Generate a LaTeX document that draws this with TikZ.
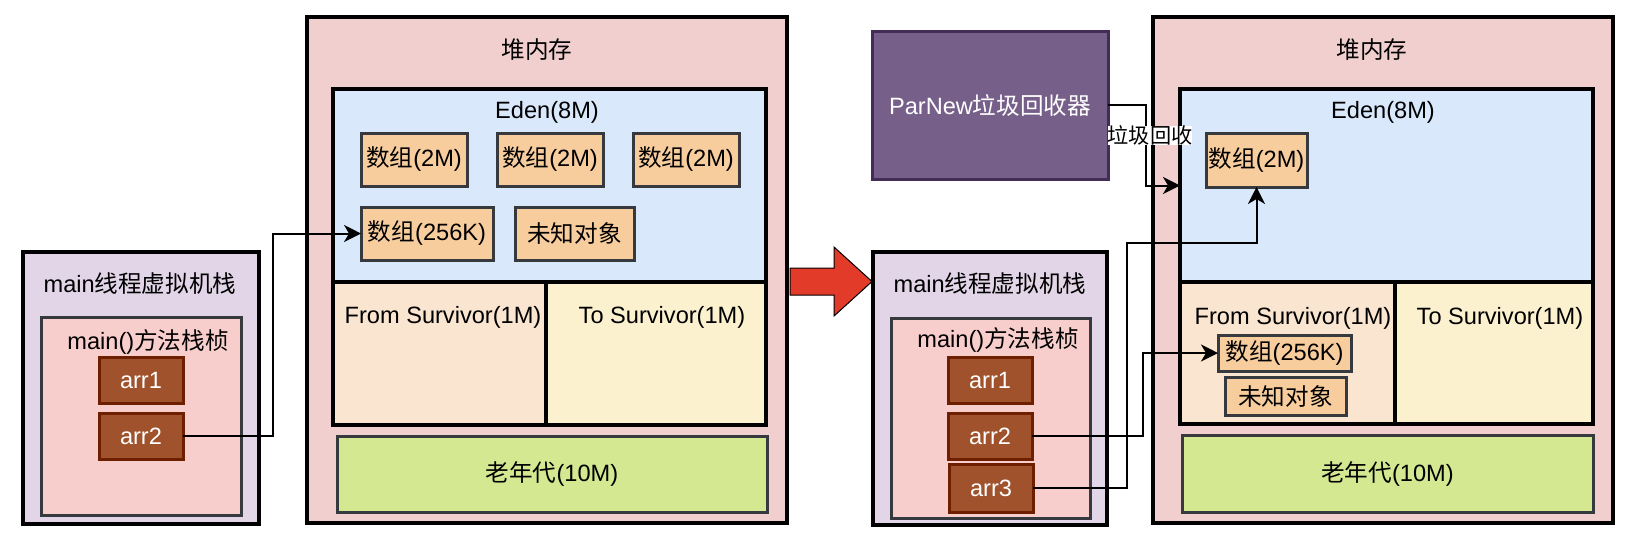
\documentclass[tikz,border=0pt]{standalone}
\usepackage{fontspec}
\setmainfont{Liberation Sans}
\newfontfamily\cjk{Noto Sans CJK SC}
\newcommand{\zh}[1]{{\cjk #1}}
\usepackage{tikz}
\usetikzlibrary{arrows.meta}

\definecolor{heapfill}{HTML}{F2CFCF}
\definecolor{framefill}{HTML}{F8CECC}
\definecolor{stackfill}{HTML}{E1D5E7}
\definecolor{edenfill}{HTML}{DAE8FC}
\definecolor{fromfill}{HTML}{FAE5D0}
\definecolor{tofill}{HTML}{FCF1CF}
\definecolor{oldfill}{HTML}{D4E892}
\definecolor{arrayfill}{HTML}{F8CD9E}
\definecolor{reffill}{HTML}{A0522D}
\definecolor{refdraw}{HTML}{6D1F00}
\definecolor{gcfill}{HTML}{76608A}
\definecolor{gcdraw}{HTML}{432D57}
\definecolor{bigred}{HTML}{E33B2A}
\definecolor{darkgray}{HTML}{36393D}

\tikzset{
  sz/.style 2 args={minimum width=#1*0.5pt, minimum height=#2*0.5pt},
  heapbox/.style={draw=black, fill=heapfill, line width=2pt},
  stackbox/.style={draw=black, fill=stackfill, line width=2pt},
  framebox/.style={draw=darkgray, fill=framefill, line width=1.5pt},
  edenbox/.style={draw=black, fill=edenfill, line width=2pt},
  fromsurv/.style={draw=black, fill=fromfill, line width=2pt},
  tosurv/.style={draw=black, fill=tofill, line width=2pt},
  oldgen/.style={draw=darkgray, fill=oldfill, line width=1.5pt},
  arraybox/.style={draw=darkgray, fill=arrayfill, line width=1.5pt},
  refbox/.style={draw=refdraw, fill=reffill, line width=1.5pt, text=white},
  gcbox/.style={draw=gcdraw, fill=gcfill, line width=1.5pt, text=white},
  link/.style={line width=1pt, -{Stealth[length=8.5pt, width=8.5pt, inset=2.5pt]}}
}

\begin{document}
\begin{tikzpicture}[x=0.5pt, y=-0.5pt,
    font=\fontsize{11.8}{14}\selectfont,
    every node/.style={inner sep=0pt, outer sep=0pt}]
    \useasboundingbox (0,0) rectangle (1646,538);

    % Left: main thread stack
    \node[stackbox, sz={236}{272}] (stackL) at (141,388) {};
    \node (stackLt) at (140,283) {main\zh{线程虚拟机栈}};
    \node[framebox, sz={200}{198}] (frameL) at (141,416) {};
    \node (frameLt) at (148,342) {main()\zh{方法栈桢}};
    \node[refbox, sz={84}{46}] (arr1L) at (141,380) {arr1};
    \node[refbox, sz={84}{46}] (arr2L) at (141,436) {arr2};

    % Left: heap
    \node[heapbox, sz={480}{506}] (heapL) at (547,270) {};
    \node (heapLt) at (537,50) {\zh{堆内存}};
    \node[edenbox, sz={433}{193}] (edenL) at (549.5,185.5) {};
    \node (edenLt) at (547,112) {Eden(8M)};
    \foreach \x/\n in {414/1, 550/2, 686/3}
        \node[arraybox, sz={106}{53}] (arrL\n) at (\x,159.5) {\zh{数组}(2M)};
    \node[arraybox, sz={132}{53}] (a256L) at (427,233.5) {\zh{数组}(256K)};
    \node[arraybox, sz={119}{53}] (unkL) at (574.5,233.5) {\zh{未知对象}};
    \node[fromsurv, sz={213}{143}] (fromL) at (439.5,353.5) {};
    \node[tosurv, sz={220}{143}] (toL) at (656,353.5) {};
    \node (fromLt) at (443,317) {From Survivor(1M)};
    \node (toLt) at (662,317) {To Survivor(1M)};
    \node[oldgen, sz={430}{76}] (oldL) at (552,474) {\zh{老年代}(10M)};

    % Reference from the stack
    \draw[link] (arr2L.east) -- ++(90,0) |- (a256L.west);

    % Big arrow between the two states
    \draw[fill=bigred, draw=black, line width=0.5pt]
        (790,268) -- (834,268) -- (834,247) -- (872,281.5)
        -- (834,316) -- (834,295) -- (790,295) -- cycle;

    % Garbage collector
    \node[gcbox, sz={236}{148}] (parnew) at (990,105) {ParNew\zh{垃圾回收器}};

    % Right: main thread stack
    \node[stackbox, sz={234}{273}] (stackR) at (990,388.5) {};
    \node (stackRt) at (990,283) {main\zh{线程虚拟机栈}};
    \node[framebox, sz={199}{200}] (frameR) at (990.5,418) {};
    \node (frameRt) at (998,340) {main()\zh{方法栈桢}};
    \node[refbox, sz={84}{46}] (arr1R) at (990,380) {arr1};
    \node[refbox, sz={84}{46}] (arr2R) at (990,436) {arr2};
    \node[refbox, sz={84}{48}] (arr3R) at (991,488) {arr3};

    % Right: heap
    \node[heapbox, sz={460}{506}] (heapR) at (1383,270) {};
    \node (heapRt) at (1372,50) {\zh{堆内存}};
    \node[edenbox, sz={413}{193}] (edenR) at (1386.5,185.5) {};
    \node (edenRt) at (1383,112) {Eden(8M)};
    \node[arraybox, sz={101}{54}] (a2mR) at (1256.5,160) {\zh{数组}(2M)};
    \node[fromsurv, sz={215}{142}] (fromR) at (1287.5,353) {};
    \node[tosurv, sz={198}{142}] (toR) at (1494,353) {};
    \node (fromRt) at (1293,318) {From Survivor(1M)};
    \node (toRt) at (1500,318) {To Survivor(1M)};
    \node[arraybox, sz={133}{36}] (a256R) at (1284.5,353) {\zh{数组}(256K)};
    \node[arraybox, sz={121}{38}] (unkR) at (1285.5,396) {\zh{未知对象}};
    \node[oldgen, sz={411}{77}] (oldR) at (1387.5,473.5) {\zh{老年代}(10M)};

    % References and collection
    \draw[link] (arr2R.east) -- ++(111,0) |- (a256R.west);
    \draw[link] (arr3R.east) -- ++(94,0) -- ++(0,-245) -| (a2mR.south);
    \draw[link] (parnew.east) -- ++(38,0) |- node[pos=0.19, fill=white, xshift=2pt,
        font=\fontsize{10.6}{12}\selectfont] {\zh{垃圾回收}} (edenR.west);
\end{tikzpicture}
\end{document}
